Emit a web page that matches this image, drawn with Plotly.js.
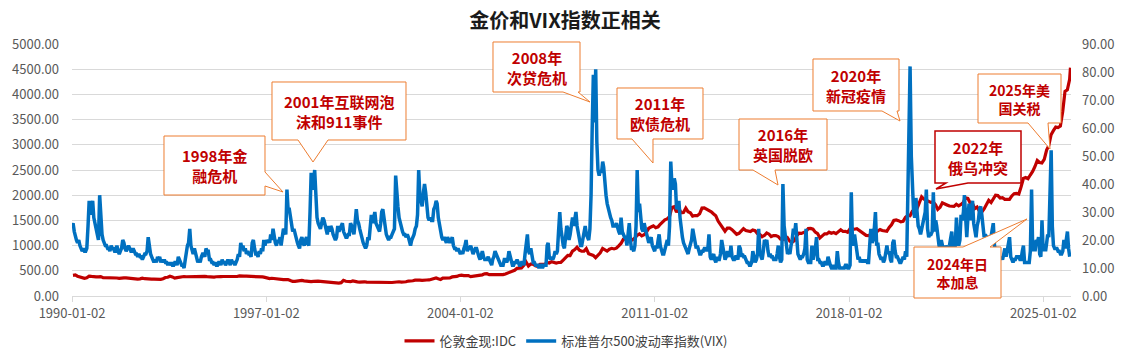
<!DOCTYPE html>
<html>
<head>
<meta charset="utf-8">
<script src="https://cdn.plot.ly/plotly-3.0.1.min.js"></script>
<style>html,body{margin:0;padding:0;background:#fff;}#chart{width:1130px;height:358px;}</style>
</head>
<body>
<div id="chart"></div>
<script>
// ---------------- DATA ----------------
const chartTitle = "金价和VIX指数正相关";
const goldName = "伦敦金现:IDC";
const vixName = "标准普尔500波动率指数(VIX)";

const xTickVals = ["1990-01-02","1997-01-02","2004-01-02","2011-01-02","2018-01-02","2025-01-02"];
const xTickText = ["1990-01-02","1997-01-02","2004-01-02","2011-01-02","2018-01-02","2025-01-02"];

// London gold spot, monthly (USD/oz), Jan..Dec per year
const gold1990s = [
 410,417,393,374,369,352,362,395,389,380,381,378,
 384,364,363,358,357,367,368,357,349,359,360,361,
 354,354,345,338,337,341,353,343,345,344,335,334,
 329,330,330,342,367,372,392,379,355,364,374,383,
 387,382,384,378,381,385,385,380,391,389,384,379,
 379,376,382,391,385,387,386,383,383,383,386,387,
 400,405,396,393,392,385,383,387,383,381,378,369,
 355,347,352,344,344,341,324,324,323,325,306,289,
 289,297,296,308,299,292,293,284,289,296,294,291,
 287,287,286,282,277,262,256,257,265,311,293,283
];
const gold2000s = [
 284,300,286,280,275,285,282,274,273,270,266,272,
 266,262,263,261,272,270,268,273,283,283,276,275,
 282,296,294,302,314,321,314,310,319,317,319,333,
 357,359,341,328,355,356,351,360,379,379,389,407,
 414,405,406,404,384,392,398,400,405,420,439,442,
 424,423,434,429,422,430,424,438,456,470,476,510,
 549,555,557,610,676,596,633,632,598,585,627,629,
 631,665,655,679,667,655,665,665,712,754,806,803,
 889,922,968,909,888,890,939,839,829,806,760,816,
 858,943,924,890,928,946,934,949,996,1043,1127,1135
];
const gold2010s = [
 1118,1095,1113,1148,1205,1233,1193,1215,1271,1343,1370,1392,
 1356,1372,1424,1474,1512,1529,1572,1756,1772,1665,1739,1652,
 1656,1742,1673,1650,1585,1596,1594,1630,1744,1747,1722,1685,
 1671,1627,1593,1487,1414,1343,1286,1347,1349,1316,1275,1225,
 1244,1300,1336,1299,1287,1279,1311,1296,1239,1222,1176,1200,
 1251,1227,1179,1198,1199,1181,1129,1117,1125,1157,1086,1068,
 1097,1199,1246,1242,1259,1276,1337,1341,1326,1267,1238,1151,
 1192,1234,1231,1266,1246,1260,1237,1283,1314,1280,1283,1265,
 1331,1331,1325,1335,1303,1282,1238,1202,1198,1215,1221,1250,
 1291,1320,1300,1285,1283,1359,1413,1500,1511,1495,1471,1480
];
const gold2020s = [
 1560,1597,1592,1683,1716,1732,1846,1968,1922,1900,1866,1858,
 1867,1808,1718,1760,1850,1834,1807,1785,1775,1777,1820,1790,
 1817,1856,1948,1937,1849,1837,1733,1764,1681,1664,1726,1798,
 1898,1855,1913,1999,1992,1942,1951,1918,1916,1916,1985,2030,
 2034,2023,2160,2332,2350,2326,2400,2470,2570,2690,2650,2640,
 2710,2895,2980,3200,3280,3350,3340,3370,3660,4060,4090,4300
];
const goldTailDates = ["2025-12-26"];
const goldTailValues = [4530];

// VIX, two readings per month (early / mid-month), Jan..Dec per year
const vix1990s = [
 24,26, 23,21, 20,19, 20,18, 17,16, 17,16, 16,17, 25,34, 29,31, 34,28, 26,24, 22,20,
 36,28, 22,20, 19,18, 18,17, 17,16, 18,17, 17,16, 16,18, 16,15, 16,17, 20,19, 17,16,
 17,18, 17,16, 16,17, 16,15, 15,14, 15,14, 14,13, 14,15, 15,16, 21,17, 15,14, 13,12,
 13,12, 14,13, 14,12, 13,12, 13,12, 12,11, 12,11, 12,11, 11,12, 12,11, 14,13, 12,11,
 11,10, 13,16, 18,19, 24,18, 16,15, 17,15, 13,12, 13,12, 14,15, 15,14, 17,16, 16,13,
 13,12, 12,11, 12,11, 11,12, 12,11, 13,12, 12,11, 12,13, 12,11, 13,12, 12,11, 12,13,
 15,14, 19,17, 18,16, 17,15, 16,15, 15,14, 19,20, 17,15, 15,14, 16,15, 17,16, 20,18,
 20,19, 20,19, 22,20, 24,21, 19,18, 20,19, 21,18, 21,24, 23,22, 38,31, 31,28, 24,23,
 24,22, 21,19, 18,17, 20,21, 19,18, 20,21, 19,18, 30,44, 38,40, 45,32, 28,26, 25,24,
 26,28, 27,25, 24,22, 25,23, 25,24, 22,21, 20,21, 25,23, 24,25, 26,23, 22,21, 21,22
];
const vix2000s = [
 22,26, 25,23, 22,26, 31,27, 26,24, 22,20, 19,18, 17,18, 21,20, 27,29, 26,28, 30,26,
 25,24, 23,26, 30,31, 28,24, 22,21, 20,21, 21,22, 23,24, 43,35, 32,28, 26,24, 23,22,
 22,21, 22,21, 19,18, 20,21, 22,24, 25,29, 45,36, 33,32, 37,40, 37,32, 28,27, 28,27,
 27,31, 32,34, 33,28, 25,23, 21,20, 21,20, 19,21, 20,19, 20,21, 18,17, 17,16, 17,16,
 15,16, 15,17, 18,20, 16,17, 17,18, 16,15, 16,17, 17,15, 14,13, 15,16, 14,13, 13,13,
 14,13, 12,11, 13,14, 16,15, 14,13, 12,11, 11,11, 13,13, 12,13, 16,14, 12,11, 11,12,
 12,13, 12,11, 11,12, 12,11, 15,19, 22,16, 15,17, 14,12, 12,11, 11,11, 10,11, 11,10,
 11,11, 11,18, 19,14, 13,14, 13,14, 16,15, 16,23, 30,24, 20,18, 17,22, 25,24, 20,22,
 25,28, 25,27, 30,25, 22,20, 18,18, 21,24, 25,22, 21,20, 24,36, 60,79, 62,81, 55,45,
 43,45, 44,48, 46,40, 36,33, 31,29, 28,27, 25,25, 25,26, 24,23, 22,28, 23,22, 21,21
];
const vix2010s = [
 18,22, 26,20, 17,17, 16,18, 25,45, 30,33, 26,24, 23,26, 24,22, 21,19, 20,21, 18,17,
 16,18, 17,20, 22,18, 16,15, 15,17, 18,20, 18,25, 48,40, 38,42, 40,31, 32,34, 28,23,
 21,19, 18,17, 16,15, 17,19, 20,24, 22,19, 17,18, 16,15, 15,16, 16,17, 17,16, 17,22,
 14,13, 14,15, 13,12, 14,13, 13,15, 20,17, 14,13, 14,16, 15,14, 18,14, 13,13, 14,14,
 13,18, 17,14, 15,14, 14,13, 12,12, 11,11, 12,16, 13,12, 13,15, 24,16, 14,13, 16,20,
 19,20, 16,14, 15,14, 14,13, 13,13, 15,18, 14,12, 13,40, 25,22, 17,15, 16,15, 18,20,
 24,22, 26,20, 15,14, 13,14, 14,15, 17,24, 13,12, 12,12, 18,13, 15,17, 21,13, 13,12,
 12,11, 11,12, 12,11, 14,12, 11,10, 10,11, 10,10, 16,12, 10,10, 10,10, 10,11, 11,10,
 10,11, 37,20, 18,22, 19,16, 13,14, 12,13, 12,13, 12,13, 12,12, 21,24, 19,20, 24,30,
 18,19, 15,14, 13,14, 12,13, 16,18, 15,16, 13,12, 19,20, 16,14, 14,13, 12,12, 13,14
];
const vix2020s = [
 13,16, 14,40, 54,82, 50,40, 30,28, 35,30, 25,24, 22,24, 27,28, 30,38, 24,21, 22,22,
 23,37, 23,27, 25,20, 18,17, 20,18, 17,16, 18,17, 16,18, 20,23, 17,16, 18,28, 21,18,
 20,29, 27,30, 36,25, 21,28, 33,27, 31,34, 26,23, 21,25, 27,31, 32,29, 25,21, 22,21,
 21,19, 19,21, 24,26, 18,16, 17,17, 14,13, 14,13, 15,17, 14,17, 20,21, 14,13, 12,13,
 13,14, 14,14, 13,13, 16,18, 12,12, 12,12, 12,16, 38,16, 19,16, 20,19, 21,15, 14,27,
 16,18, 16,19, 22,21, 45,52, 25,18, 17,17, 17,16, 16,15, 15,16, 20,17, 20,23, 17,14
];

// ---------------- BUILD ----------------
const pad = n => (n < 10 ? "0" + n : "" + n);
function monthlyDates(startYear, count) {
  const out = [];
  for (let i = 0; i < count; i++) {
    const y = startYear + Math.floor(i / 12), m = (i % 12) + 1;
    out.push(y + "-" + pad(m) + "-15");
  }
  return out;
}
function halfMonthDates(startYear, count) {
  const out = [];
  for (let i = 0; i < count; i++) {
    const k = Math.floor(i / 2);
    const y = startYear + Math.floor(k / 12), m = (k % 12) + 1;
    out.push(y + "-" + pad(m) + (i % 2 === 0 ? "-01" : "-16"));
  }
  return out;
}
const goldValues = [].concat(gold1990s, gold2000s, gold2010s, gold2020s, goldTailValues);
const goldDates = monthlyDates(1990, gold1990s.length + gold2000s.length + gold2010s.length + gold2020s.length).concat(goldTailDates);
const vixValues = [].concat(vix1990s, vix2000s, vix2010s, vix2020s);
const vixDates = halfMonthDates(1990, vixValues.length);

const FONT = '"Noto Sans CJK SC","Microsoft YaHei","Noto Sans",sans-serif';

// callout geometry (page pixels) -> paper coords
const PL = 72, PR = 1071, PT = 44, PB = 296;
const px = x => (x - PL) / (PR - PL);
const py = y => (PB - y) / (PB - PT);
function pathOf(pts) {
  return "M" + pts.map(p => px(p[0]).toFixed(5) + "," + py(p[1]).toFixed(5)).join(" L") + " Z";
}
const callouts = [
  {text:"1998年金<br>融危机", size:15, border:"#ED7D31", pts:[[164,136],[265,136],[265,172],[283,192],[265,186],[265,195],[164,195]]},
  {text:"2001年互联网泡<br>沫和911事件", size:15, border:"#ED7D31", pts:[[272,82],[406,82],[406,140],[328,140],[313,162],[298,140],[272,140]]},
  {text:"2008年<br>次贷危机", size:15, border:"#ED7D31", pts:[[493,42],[580,42],[580,92],[578,92],[590,102],[563,92],[493,92]]},
  {text:"2011年<br>欧债危机", size:15, border:"#ED7D31", pts:[[617,88],[703,88],[703,139],[653,139],[653,163],[632,139],[617,139]]},
  {text:"2016年<br>英国脱欧", size:15, border:"#ED7D31", pts:[[739,119],[827,119],[827,170],[775,170],[778,185],[753,170],[739,170]]},
  {text:"2020年<br>新冠疫情", size:15, border:"#ED7D31", pts:[[813,59],[899,59],[899,111],[897,111],[900,121],[882,111],[813,111]]},
  {text:"2022年<br>俄乌冲突", size:15, border:"#C00000", pts:[[935,131],[1021,131],[1021,183],[968,183],[936,189],[946,183],[935,183]]},
  {text:"2025年美<br>国关税", size:14, border:"#ED7D31", pts:[[978,74],[1061,74],[1061,123],[1048,123],[1050,149],[1028,123],[978,123]]},
  {text:"2024年日<br>本加息", size:14, border:"#ED7D31", pts:[[914,247],[963,247],[1027,219],[990,247],[1001,247],[1001,298],[914,298]]}
];
const boxes = [[164,136,265,195],[272,82,406,140],[493,42,580,92],[617,88,703,139],[739,119,827,170],[813,59,899,111],[935,131,1021,183],[978,74,1061,123],[914,247,1001,298]];

const shapes = callouts.map(c => ({
  type:"path", xref:"paper", yref:"paper", layer:"above",
  path: pathOf(c.pts), fillcolor:"#ffffff",
  line:{color:c.border, width:c.border === "#C00000" ? 1.5 : 1}
}));
const annotations = callouts.map((c, i) => ({
  xref:"paper", yref:"paper", showarrow:false,
  x: px((boxes[i][0] + boxes[i][2]) / 2), y: py((boxes[i][1] + boxes[i][3]) / 2),
  xanchor:"center", yanchor:"middle",
  text:"<b>" + c.text + "</b>",
  font:{family:FONT, size:c.size, color:"#C00000"}
}));

const traces = [
  {x:goldDates, y:goldValues, name:goldName, type:"scatter", mode:"lines",
   line:{color:"#C00000", width:3.2}, yaxis:"y"},
  {x:vixDates, y:vixValues, name:vixName, type:"scatter", mode:"lines",
   line:{color:"#0070C0", width:3.5}, yaxis:"y2"}
];

const layout = {
  width:1130, height:358,
  margin:{l:PL, r:1130-PR, t:PT, b:358-PB, pad:0, autoexpand:false},
  paper_bgcolor:"#ffffff", plot_bgcolor:"#ffffff",
  font:{family:FONT, size:13, color:"#595959"},
  title:{text:"<b>" + chartTitle + "</b>", font:{family:FONT, size:20, color:"#1a1a1a"},
         xref:"container", x:0.5, xanchor:"center", yref:"container", y:1-21/358, yanchor:"middle"},
  xaxis:{type:"date", range:["1990-01-02","2026-01-02"], tickmode:"array",
         tickvals:xTickVals, ticktext:xTickText, showgrid:false, automargin:false,
         showline:true, linecolor:"#d9d9d9", linewidth:1,
         ticks:"outside", ticklen:5, tickcolor:"#d9d9d9",
         tickfont:{family:FONT, size:13, color:"#595959"}},
  yaxis:{range:[0,5000], dtick:500, tick0:0, tickformat:".2f", automargin:false,
         showgrid:true, gridcolor:"#d9d9d9", gridwidth:1, zeroline:false, showline:false,
         ticks:"", ticklabelstandoff:12,
         tickfont:{family:FONT, size:13, color:"#595959"}},
  yaxis2:{range:[0,90], dtick:10, tick0:0, tickformat:".2f", overlaying:"y", side:"right", automargin:false,
          showgrid:false, zeroline:false, showline:false, ticks:"", ticklabelstandoff:10,
          tickfont:{family:FONT, size:13, color:"#595959"}},
  legend:{orientation:"h", x:0.4945, xanchor:"center", y:(PB-341)/(PB-PT), yanchor:"middle",
          font:{family:FONT, size:13, color:"#404040"}, bgcolor:"rgba(0,0,0,0)",
          itemwidth:30, tracegroupgap:0},
  shapes:shapes,
  annotations:annotations,
  showlegend:true
};

Plotly.newPlot("chart", traces, layout, {displayModeBar:false, staticPlot:true});
</script>
</body>
</html>
